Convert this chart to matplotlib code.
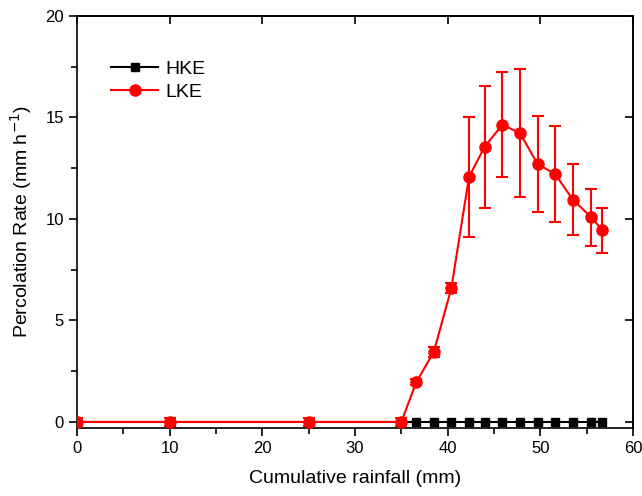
import numpy as np
import matplotlib
matplotlib.use("Agg")
import matplotlib.pyplot as plt
from matplotlib.ticker import MultipleLocator
from matplotlib.lines import Line2D

plt.rcParams['font.family'] = ['Liberation Sans', 'DejaVu Sans']

# rainfall (mm)
rain = [0, 10, 25, 35, 36.6, 38.5, 40.4, 42.3, 44.0, 45.9, 47.8, 49.7, 51.6, 53.5, 55.5, 56.7]
# HKE percolation rate
hke = [0, 0, 0, 0, 0, 0, 0, 0, 0, 0, 0, 0, 0, 0, 0, 0]
# LKE percolation rate and error
lke = [0, 0, 0, 0, 1.95, 3.45, 6.6, 12.07, 13.56, 14.64, 14.23, 12.70, 12.21, 10.95, 10.08, 9.44]
lke_err = [0.2, 0.2, 0.2, 0.2, 0.15, 0.25, 0.25, 2.95, 3.0, 2.6, 3.15, 2.35, 2.35, 1.75, 1.4, 1.12]

fig = plt.figure(figsize=(6.42, 4.96), dpi=100)
ax = fig.add_axes([0.12, 0.137, 0.866, 0.831])

ax.plot(rain, hke, color='black', marker='s', markersize=6, linewidth=1.5, zorder=2)
ax.errorbar(rain, lke, yerr=lke_err, color='red', marker='o', markersize=8, linewidth=1.5,
            elinewidth=1.5, capsize=4, capthick=1.5, zorder=3)

ax.set_xlim(0, 60)
ax.set_ylim(-0.3, 20)
ax.xaxis.set_major_locator(MultipleLocator(10))
ax.xaxis.set_minor_locator(MultipleLocator(5))
ax.yaxis.set_major_locator(MultipleLocator(5))
ax.yaxis.set_minor_locator(MultipleLocator(2.5))

ax.tick_params(which='both', direction='out', top=False, right=False, labelsize=12, width=1.2)
ax.tick_params(which='major', length=6)
ax.tick_params(which='minor', length=4)

# mirrored major ticks pointing in on top/right
ax_t = ax.secondary_xaxis('top')
ax_t.set_xticks(np.arange(0, 61, 10))
ax_t.tick_params(direction='in', length=6, width=1.2, labeltop=False)
ax_r = ax.secondary_yaxis('right')
ax_r.set_yticks(np.arange(0, 21, 5))
ax_r.tick_params(direction='in', length=6, width=1.2, labelright=False)

for s in ax.spines.values():
    s.set_linewidth(1.2)
ax_t.spines['top'].set_linewidth(1.2)
ax_r.spines['right'].set_linewidth(1.2)

ax.set_xlabel('Cumulative rainfall (mm)', fontsize=14, labelpad=10)
ax.set_ylabel('Percolation Rate (mm h$^{-1}$)', fontsize=14, labelpad=8)

handles = [Line2D([], [], color='black', marker='s', markersize=6, linewidth=1.5),
           Line2D([], [], color='red', marker='o', markersize=8, linewidth=1.5)]
ax.legend(handles, ['HKE', 'LKE'], loc='upper left', bbox_to_anchor=(0.03, 0.935),
          frameon=False, fontsize=14, handlelength=2.4, handletextpad=0.4, labelspacing=0.3)

fig.savefig('out.png', dpi=100)
